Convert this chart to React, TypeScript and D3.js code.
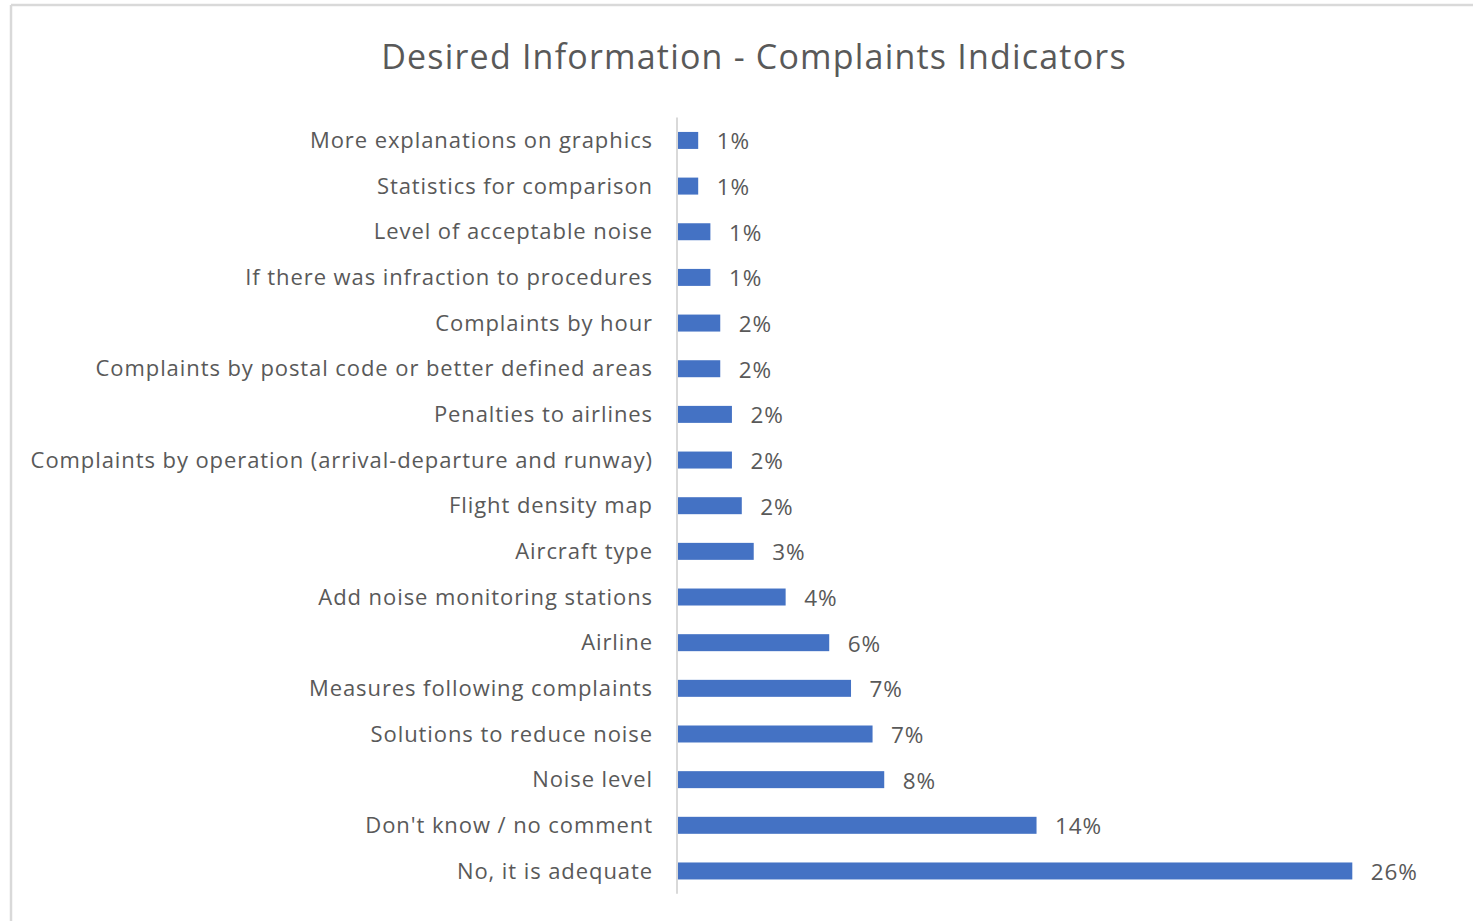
import React from "react";
import * as d3 from "d3";

const categories = [
  "More explanations on graphics",
  "Statistics for comparison",
  "Level of acceptable noise",
  "If there was infraction to procedures",
  "Complaints by hour",
  "Complaints by postal code or better defined areas",
  "Penalties to airlines",
  "Complaints by operation (arrival-departure and runway)",
  "Flight density map",
  "Aircraft type",
  "Add noise monitoring stations",
  "Airline",
  "Measures following complaints",
  "Solutions to reduce noise",
  "Noise level",
  "Don't know / no comment",
  "No, it is adequate",
];

const values = [
  0.79, 0.79, 1.26, 1.26, 1.64, 1.64, 2.09, 2.09, 2.47, 2.93, 4.16, 5.84, 6.68,
  7.51, 7.96, 13.83, 26.0,
];

const valueLabels = [
  "1%", "1%", "1%", "1%", "2%", "2%", "2%", "2%", "2%", "3%", "4%", "6%", "7%",
  "7%", "8%", "14%", "26%",
];

const title = "Desired Information - Complaints Indicators";

const W = 1473;
const H = 921;
const FONT = "'Open Sans', 'Noto Sans', sans-serif";
const TEXT = "#595959";
const BAR = "#4472C4";

export default function App() {
  const x = d3.scaleLinear().domain([0, 26]).range([677.7, 1352.3]);
  const y = d3
    .scaleBand<string>()
    .domain(categories)
    .range([117.6, 893.8])
    .paddingInner(0.628)
    .paddingOuter(0.314);

  return (
    <svg
      width={W}
      height={H}
      style={{ position: "absolute", left: 0, top: 0, background: "#fff" }}
    >
      <rect x={0} y={0} width={W} height={H} fill="#fff" />
      {/* chart frame */}
      <line x1={11} y1={5} x2={W} y2={5} stroke="#d9d9d9" strokeWidth={2.5} />
      <line x1={11} y1={5} x2={11} y2={H} stroke="#d9d9d9" strokeWidth={2.5} />

      <text
        x={754}
        y={69}
        textAnchor="middle"
        fontFamily={FONT}
        fontSize={34}
        letterSpacing={1.2}
        fill={TEXT}
      >
        {title}
      </text>

      {categories.map((c, i) => {
        const yc = (y(c) as number) + y.bandwidth() / 2;
        return (
          <g key={c}>
            <rect
              x={x(0)}
              y={y(c)}
              width={x(values[i]) - x(0)}
              height={y.bandwidth()}
              fill={BAR}
            />
            <text
              x={653}
              y={yc}
              dy="0.35em"
              textAnchor="end"
              fontFamily={FONT}
              fontSize={22}
              letterSpacing={0.92}
              fill={TEXT}
            >
              {c}
            </text>
            <text
              x={x(values[i]) + 18.5}
              y={yc}
              dy="0.4em"
              textAnchor="start"
              fontFamily={FONT}
              fontSize={22.5}
              letterSpacing={0.9}
              fill={TEXT}
            >
              {valueLabels[i]}
            </text>
          </g>
        );
      })}

      <line
        x1={677}
        y1={y.range()[0]}
        x2={677}
        y2={y.range()[1]}
        stroke="#d9d9d9"
        strokeWidth={2}
      />
    </svg>
  );
}
